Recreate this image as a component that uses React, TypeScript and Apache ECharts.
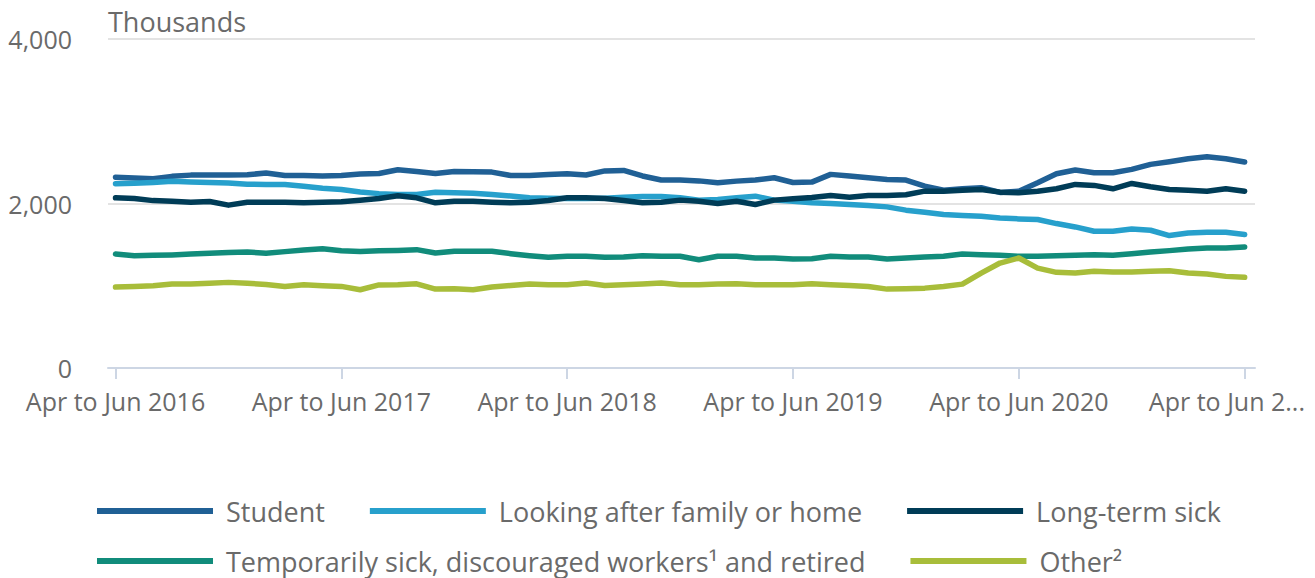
import React, { useEffect, useRef } from "react";
import * as echarts from "echarts";

const MONTHS = ["Jan", "Feb", "Mar", "Apr", "May", "Jun", "Jul", "Aug", "Sep", "Oct", "Nov", "Dec"];

// Rolling three-month periods, Apr to Jun 2016 ... Apr to Jun 2021
const categories: string[] = [];
for (let i = 0; i < 61; i++) {
  const s = 3 + i;
  const e = s + 2;
  categories.push(`${MONTHS[s % 12]} to ${MONTHS[e % 12]} ${2016 + Math.floor(e / 12)}`);
}

const tickIndices = [0, 12, 24, 36, 48, 60];
const labelIndices = [0, 12, 24, 36, 48];
const lastIndex = 60;

const seriesNames = [
  "Student",
  "Looking after family or home",
  "Long-term sick",
  "Temporarily sick, discouraged workers¹ and retired",
  "Other²",
];

const student = [
  2320, 2310, 2300, 2330, 2345, 2345, 2345, 2350, 2370, 2340, 2340, 2335, 2340, 2360, 2365, 2410,
  2390, 2366, 2390, 2386, 2382, 2340, 2341, 2354, 2362, 2346, 2396, 2402, 2335, 2285, 2285, 2275,
  2252, 2272, 2285, 2313, 2255, 2260, 2354, 2333, 2313, 2293, 2285, 2211, 2162, 2179, 2191, 2135,
  2150, 2252, 2362, 2407, 2374, 2374, 2415, 2476, 2508, 2545, 2569, 2545, 2504,
];

const lookingAfter = [
  2240, 2245, 2255, 2270, 2262, 2255, 2250, 2235, 2232, 2232, 2211, 2185, 2171, 2140, 2120, 2110,
  2110, 2138, 2130, 2125, 2110, 2090, 2070, 2065, 2060, 2060, 2065, 2075, 2085, 2085, 2070, 2041,
  2049, 2069, 2089, 2041, 2028, 2008, 2000, 1988, 1976, 1959, 1919, 1894, 1866, 1854, 1846, 1825,
  1813, 1805, 1756, 1715, 1663, 1663, 1691, 1675, 1610, 1642, 1650, 1650, 1622,
];

const longTermSick = [
  2069, 2061, 2035, 2028, 2016, 2025, 1980, 2016, 2016, 2016, 2008, 2016, 2020, 2040, 2060, 2095,
  2069, 2008, 2028, 2028, 2016, 2008, 2016, 2037, 2069, 2069, 2061, 2037, 2008, 2016, 2041, 2028,
  2000, 2028, 1988, 2041, 2057, 2073, 2098, 2077, 2098, 2098, 2106, 2150, 2150, 2162, 2171, 2138,
  2130, 2150, 2179, 2232, 2220, 2179, 2244, 2203, 2171, 2162, 2150, 2179, 2150,
];

const temporarilySick = [
  1386, 1366, 1370, 1375, 1385, 1395, 1405, 1410, 1395, 1415, 1435, 1450, 1425, 1415, 1425, 1430,
  1439, 1398, 1419, 1419, 1419, 1390, 1366, 1346, 1358, 1358, 1346, 1350, 1366, 1358, 1358, 1317,
  1358, 1358, 1337, 1337, 1325, 1329, 1358, 1350, 1350, 1325, 1337, 1350, 1358, 1386, 1378, 1370,
  1358, 1358, 1366, 1370, 1378, 1370, 1390, 1411, 1427, 1447, 1459, 1459, 1472,
];

const other = [
  984, 990, 1000, 1020, 1022, 1030, 1041, 1030, 1015, 990, 1012, 1000, 992, 951, 1010, 1012,
  1024, 959, 963, 951, 985, 1004, 1020, 1012, 1012, 1033, 1004, 1012, 1020, 1033, 1012, 1012,
  1020, 1024, 1012, 1012, 1012, 1024, 1012, 1004, 992, 959, 963, 971, 992, 1020, 1154, 1276,
  1337, 1215, 1163, 1154, 1175, 1167, 1167, 1175, 1183, 1154, 1142, 1114, 1102,
];

const seriesValues = [student, lookingAfter, longTermSick, temporarilySick, other];
const colors = ["#206095", "#27a0cc", "#003c57", "#118c7b", "#a8bd3a"];

const TEXT = "#6a6a6a";
const FONT = "'Open Sans', sans-serif";

export default function App() {
  const ref = useRef<HTMLDivElement>(null);

  useEffect(() => {
    if (!ref.current) return;
    const chart = echarts.init(ref.current, null, { renderer: "svg" });
    const legendBase = {
      left: 97,
      padding: 0,
      orient: "horizontal",
      icon: "rect",
      itemWidth: 116,
      itemHeight: 6,
      itemGap: 45,
      selectedMode: true,
      textStyle: {
        fontSize: 27,
        lineHeight: 28,
        color: TEXT,
        fontFamily: FONT,
        padding: [0, 0, 0, 8],
      },
    };
    // The last category label is truncated to fit inside the chart's right edge
    const lastLabel = categories[lastIndex].slice(0, 12) + "...";
    chart.setOption({
      animation: false,
      color: colors,
      textStyle: { fontFamily: FONT },
      title: {
        text: "Thousands",
        left: 103,
        top: 3,
        textStyle: { fontSize: 27, fontWeight: "normal", color: TEXT, fontFamily: FONT },
      },
      legend: [
        { ...legendBase, top: 497, data: seriesNames.slice(0, 3) },
        { ...legendBase, top: 547, data: seriesNames.slice(3) },
      ],
      graphic: [
        {
          type: "text",
          right: 10,
          top: 388,
          style: {
            text: lastLabel,
            fontSize: 25,
            fontFamily: FONT,
            fill: TEXT,
          },
        },
      ],
      grid: {
        left: 108,
        right: 60,
        top: 39,
        bottom: 210,
        containLabel: false,
        outerBoundsMode: "none",
      },
      xAxis: {
        type: "value",
        min: -0.4,
        max: 60.55,
        splitLine: { show: false },
        axisLine: { show: true, onZero: true, lineStyle: { color: "#cdd6e4", width: 2 } },
        axisTick: { show: true, customValues: tickIndices, length: 11, lineStyle: { color: "#cdd6e4", width: 2 } },
        axisLabel: {
          customValues: labelIndices,
          fontSize: 25,
          color: TEXT,
          fontFamily: FONT,
          margin: 20,
          formatter: (v: number) => categories[Math.round(v)] ?? "",
        },
      },
      yAxis: {
        type: "value",
        min: 0,
        max: 4000,
        interval: 2000,
        axisLine: { show: false },
        axisTick: { show: false },
        splitLine: { show: true, lineStyle: { color: "#e3e3e3", width: 2 } },
        axisLabel: {
          fontSize: 25,
          color: TEXT,
          fontFamily: FONT,
          margin: 36,
          formatter: (v: number) => v.toLocaleString("en-US"),
        },
      },
      series: seriesNames.map((name, k) => ({
        name,
        type: "line",
        showSymbol: false,
        symbol: "none",
        data: seriesValues[k].map((v, i) => [i, v]),
        lineStyle: { width: 5.5, cap: "round", join: "round", color: colors[k] },
        itemStyle: { color: colors[k] },
      })),
    });
    return () => chart.dispose();
  }, []);

  return (
    <div
      ref={ref}
      style={{ position: "fixed", left: 0, top: 0, width: 1315, height: 578, background: "#fff" }}
    />
  );
}
